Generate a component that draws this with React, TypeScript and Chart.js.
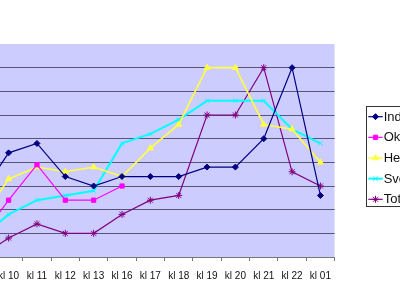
import React, { useEffect, useRef } from 'react';
import { Chart, registerables } from 'chart.js';
import { drawPoint } from 'chart.js/helpers';

Chart.register(...registerables);

// categories (the first one lies outside the visible crop, like in the reference)
const categories = ['kl 09', 'kl 10', 'kl 11', 'kl 12', 'kl 13', 'kl 16', 'kl 17', 'kl 18', 'kl 19', 'kl 20', 'kl 21', 'kl 22', 'kl 01'];

const seriesNames = ['Index', 'Okänd', 'Helhet', 'Sverige', 'Totalt'];

const indValues = [26, 44, 48, 34, 30, 34, 34, 34, 38, 38, 50, 80, 26];
const okValues = [8, 24, 39, 24, 24, 30, null, null, null, null, null, null, null];
const heValues = [15, 33, 38, 36, 38, 34, 46, 56, 80, 80, 56, 54, 40];
const swValues = [8, 18, 24, 26, 28, 48, 52, 58, 66, 66, 66, 54, 48];
const toValues = [0, 8, 14, 10, 10, 18, 24, 26, 60, 60, 80, 36, 30];

const yMin = 0;
const yMax = 90;
const yStep = 10;

const FONT = "'Liberation Sans', Arial, sans-serif";

const styles = [
  { color: '#000080', pointStyle: 'rectRot', radius: 3, width: 1.2 },
  { color: '#FF00FF', pointStyle: 'rect', radius: 3, width: 1.2 },
  { color: '#FFFF44', pointStyle: 'triangle', radius: 3.5, width: 1.6 },
  { color: '#00FFFF', pointStyle: 'crossRot', radius: 3, width: 2 },
  { color: '#800080', pointStyle: 'star', radius: 3.5, width: 1.2 },
];

const SHIFT = 60; // canvas starts this many px left of the page edge

const bgPlugin = {
  id: 'bgPlugin',
  beforeDraw(chart: any) {
    const { ctx, chartArea } = chart;
    ctx.save();
    ctx.fillStyle = '#ffffff';
    ctx.fillRect(0, 0, chart.width, chart.height);
    ctx.fillStyle = '#CCCCFF';
    ctx.fillRect(chartArea.left, chartArea.top, chartArea.right - chartArea.left, chartArea.bottom - chartArea.top);
    ctx.restore();
  },
};

const legendPlugin = {
  id: 'boxLegend',
  afterDraw(chart: any) {
    const { ctx } = chart;
    ctx.save();
    const left = 366.5 + SHIFT;
    const top = 106.5;
    const bottom = 206.5;
    ctx.fillStyle = '#ffffff';
    ctx.fillRect(left, top, 80, bottom - top);
    ctx.strokeStyle = '#333333';
    ctx.lineWidth = 1;
    ctx.strokeRect(left, top, 80, bottom - top);
    chart.data.datasets.forEach((ds: any, i: number) => {
      const y = 116.7 + i * 20.65;
      const x0 = 368.3 + SHIFT;
      const x1 = 382.7 + SHIFT;
      const st = styles[i];
      ctx.strokeStyle = st.color;
      ctx.fillStyle = st.color;
      ctx.lineWidth = st.width;
      ctx.beginPath();
      ctx.moveTo(x0, y);
      ctx.lineTo(x1, y);
      ctx.stroke();
      ctx.lineWidth = 1;
      drawPoint(ctx, { pointStyle: st.pointStyle, radius: st.radius, borderWidth: 1, rotation: 0 } as any, (x0 + x1) / 2, y);
      ctx.fillStyle = '#111111';
      ctx.font = `13px ${FONT}`;
      ctx.textBaseline = 'middle';
      ctx.textAlign = 'left';
      ctx.fillText(ds.label, x1 + 1, y + 0.5);
    });
    ctx.restore();
  },
};

export default function App() {
  const ref = useRef<HTMLCanvasElement | null>(null);

  useEffect(() => {
    if (!ref.current) return;
    const all = [indValues, okValues, heValues, swValues, toValues];
    const chart = new Chart(ref.current, {
      type: 'line',
      data: {
        labels: categories,
        datasets: all.map((vals, i) => ({
          label: seriesNames[i],
          data: vals,
          borderColor: styles[i].color,
          backgroundColor: styles[i].color,
          borderWidth: styles[i].width,
          pointStyle: styles[i].pointStyle as any,
          pointRadius: styles[i].radius,
          pointBorderWidth: 1,
          pointBorderColor: styles[i].color,
          pointBackgroundColor: styles[i].color,
          tension: 0,
          spanGaps: false,
          fill: false,
        })),
      },
      options: {
        responsive: false,
        animation: false,
        devicePixelRatio: 1,
        layout: { padding: { left: 26.1, right: 65.4, top: 44, bottom: 0 } },
        plugins: {
          legend: { display: false },
          tooltip: { enabled: false },
          title: { display: false },
        },
        scales: {
          x: {
            type: 'category',
            offset: true,
            afterFit: (s: any) => { s.height = 27; },
            grid: { offset: true, drawOnChartArea: false, drawTicks: true, tickLength: 4, color: '#777777' },
            border: { display: true, color: '#777777', width: 1 },
            ticks: {
              autoSkip: false,
              maxRotation: 0,
              minRotation: 0,
              padding: 9,
              color: '#111111',
              font: { family: FONT, size: 10 },
            },
          },
          y: {
            min: yMin,
            max: yMax,
            afterFit: (s: any) => { s.width = 0; },
            border: { display: false },
            grid: {
              drawTicks: false,
              color: (c: any) => (c.tick && c.tick.value === yMax ? 'rgba(0,0,0,0)' : '#555577'),
              lineWidth: 1,
            },
            ticks: { display: false, stepSize: yStep },
          },
        },
      },
      plugins: [bgPlugin, legendPlugin],
    });
    return () => chart.destroy();
  }, []);

  return (
    <div style={{ position: 'fixed', left: 0, top: 0, width: 400, height: 284, overflow: 'hidden', background: '#ffffff' }}>
      <canvas ref={ref} width={400 + SHIFT} height={284} style={{ position: 'absolute', left: -SHIFT, top: 0, width: 400 + SHIFT, height: 284 }} />
    </div>
  );
}
